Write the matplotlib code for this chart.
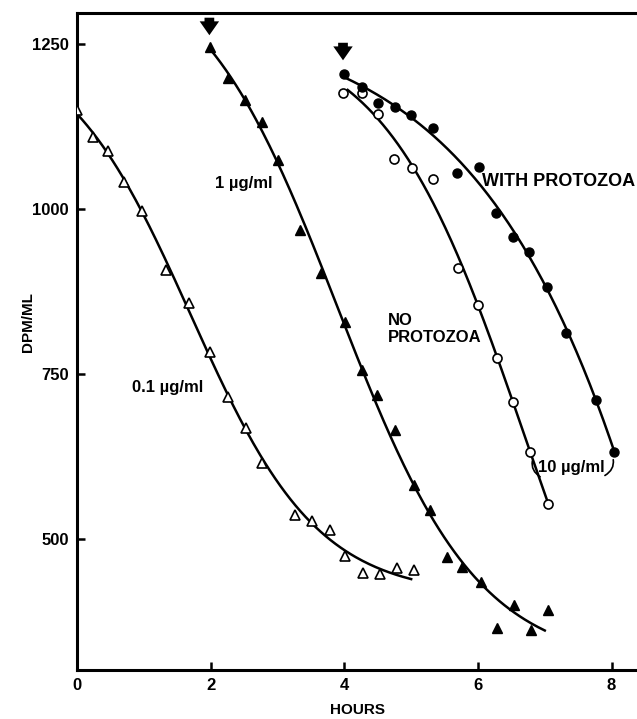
import numpy as np
import matplotlib.pyplot as plt

plt.rcParams['font.family'] = ['Liberation Sans', 'DejaVu Sans']

# 0.1 ug/ml (open triangles)
t_low = [0.0, 0.24, 0.46, 0.70, 0.97, 1.33, 1.68, 1.99, 2.26, 2.53, 2.77, 3.26, 3.52, 3.79, 4.01, 4.28, 4.54, 4.79, 5.04]
v_low = [1150, 1109, 1088, 1041, 997, 908, 858, 783, 715, 668, 615, 536, 527, 514, 474, 448, 447, 456, 453]

# 1 ug/ml (filled triangles)
t_mid = [1.99, 2.26, 2.51, 2.77, 3.01, 3.34, 3.65, 4.01, 4.27, 4.49, 4.76, 5.04, 5.28, 5.54, 5.76, 6.05, 6.29, 6.54, 6.80, 7.05]
v_mid = [1245, 1198, 1165, 1132, 1074, 968, 903, 829, 756, 718, 665, 582, 544, 473, 458, 435, 365, 400, 362, 392]

# 10 ug/ml, no protozoa (open circles)
t_no = [3.98, 4.27, 4.51, 4.75, 5.01, 5.33, 5.70, 6.00, 6.29, 6.53, 6.78, 7.05]
v_no = [1176, 1176, 1144, 1076, 1062, 1045, 911, 855, 774, 708, 632, 552]

# 10 ug/ml, with protozoa (filled circles)
t_with = [4.00, 4.27, 4.51, 4.76, 5.00, 5.33, 5.69, 6.02, 6.27, 6.53, 6.77, 7.04, 7.32, 7.77, 8.04]
v_with = [1205, 1185, 1161, 1155, 1142, 1123, 1055, 1064, 994, 958, 935, 882, 812, 711, 632]

# drawn curve spans (hours)
span_low = (0.0, 5.0)
span_mid = (2.0, 7.0)
span_no = (4.05, 7.05)
span_with = (4.0, 8.04)


def smooth(t, v, span):
    # least-squares logistic curve through the points (grid over centre/width)
    t = np.asarray(t, float)
    v = np.asarray(v, float)
    best = None
    for c in np.linspace(-2, 14, 161):
        for d in np.linspace(0.2, 5, 97):
            s = 1 / (1 + np.exp((t - c) / d))
            A = np.column_stack([np.ones_like(t), s])
            coef = np.linalg.lstsq(A, v, rcond=None)[0]
            err = np.sum((A @ coef - v) ** 2)
            if best is None or err < best[0]:
                best = (err, c, d, coef)
    _, c, d, coef = best
    x = np.linspace(span[0], span[1], 200)
    return x, coef[0] + coef[1] / (1 + np.exp((x - c) / d))


fig = plt.figure(figsize=(6.37, 7.19), dpi=100)
ax = fig.add_axes([0.121, 0.068, 0.879, 0.914])

for t, v, span in [(t_low, v_low, span_low), (t_mid, v_mid, span_mid),
                   (t_no, v_no, span_no), (t_with, v_with, span_with)]:
    x, y = smooth(t, v, span)
    ax.plot(x, y, color='black', lw=1.8, zorder=2)

ax.plot(t_low, v_low, '^', ms=7, mfc='white', mec='black', mew=1.2, zorder=3)
ax.plot(t_mid, v_mid, '^', ms=7, mfc='black', mec='black', zorder=3)
ax.plot(t_no, v_no, 'o', ms=6.5, mfc='white', mec='black', mew=1.2, zorder=3)
ax.plot(t_with, v_with, 'o', ms=6.5, mfc='black', mec='black', zorder=3)

# addition arrows
arrow = dict(arrowstyle='simple,head_width=1.4,head_length=1.0,tail_width=0.7',
             color='black', lw=0)
ax.annotate('', xy=(1.98, 1259), xytext=(1.98, 1294), arrowprops=arrow)
ax.annotate('', xy=(3.98, 1221), xytext=(3.98, 1256), arrowprops=arrow)

fs = 12
ax.text(2.07, 1039, '1 µg/ml', fontsize=fs, fontweight='bold', va='center')
ax.text(0.82, 729, '0.1 µg/ml', fontsize=fs, fontweight='bold', va='center')
ax.text(6.06, 1041, 'WITH PROTOZOA', fontsize=13, fontweight='bold', va='center')
ax.text(4.65, 818, 'NO\nPROTOZOA', fontsize=fs, fontweight='bold', va='center',
        linespacing=1.1)
ax.text(7.40, 608, '10 µg/ml', fontsize=fs, fontweight='bold', va='center', ha='center')
leader = dict(arrowstyle='-', lw=1.2, shrinkA=0, shrinkB=3)
ax.annotate('', xy=(6.83, 624), xytext=(6.93, 594),
            arrowprops=dict(leader, connectionstyle='arc3,rad=-0.4'))
ax.annotate('', xy=(8.01, 626), xytext=(7.90, 596),
            arrowprops=dict(leader, connectionstyle='arc3,rad=0.4'))

ax.set_xlim(0, 8.38)
ax.set_ylim(301, 1297)
ax.set_xticks([0, 2, 4, 6, 8])
ax.set_xticklabels(['0', '2', '4', '6', '8'])
ax.set_yticks([500, 750, 1000, 1250])
ax.tick_params(direction='in', length=6, width=1.8, labelsize=12, pad=6)
for lab in ax.get_xticklabels() + ax.get_yticklabels():
    lab.set_fontweight('bold')
for s in ['left', 'bottom', 'top']:
    ax.spines[s].set_linewidth(2.2)
ax.spines['right'].set_visible(False)

ax.set_xlabel('HOURS', fontsize=11, fontweight='bold')
ax.set_ylabel('DPM/ML', fontsize=11, fontweight='bold')
ax.xaxis.set_label_coords(0.5, -0.05)
ax.yaxis.set_label_coords(-0.075, 0.53)

plt.savefig('out.png', dpi=100)
